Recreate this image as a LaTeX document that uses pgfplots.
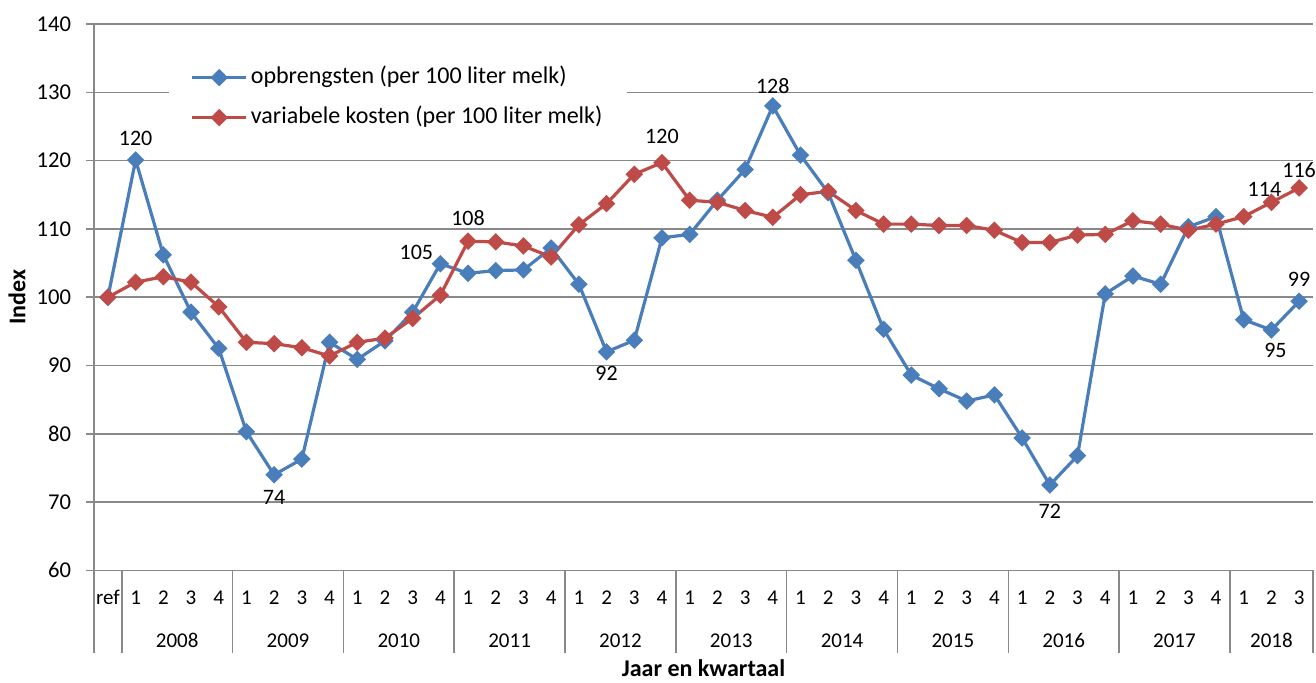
\documentclass[border=0pt]{standalone}
\usepackage{fontspec}
\setmainfont{Carlito}
\usepackage{pgfplots}
\pgfplotsset{compat=1.18}
\usetikzlibrary{calc}
\definecolor{cblue}{HTML}{4A7EBB}
\definecolor{cred}{HTML}{BE4B48}
\definecolor{cgrid}{HTML}{898989}
\begin{document}
\begin{tikzpicture}[font=\fontsize{11}{13.2}\selectfont]
\begin{axis}[
  scale only axis, width=609pt, height=273pt,
  xmin=-0.5, xmax=43.5, ymin=60, ymax=140,
  ytick={60,70,...,140},
  axis x line*=bottom, axis y line*=left,
  axis line style={-, cgrid, line width=0.75pt},
  every outer x axis line/.append style={-},
  every outer y axis line/.append style={-},
  ymajorgrids, grid style={cgrid, line width=0.75pt},
  tick align=outside, major tick length=4pt,
  ytick style={cgrid, line width=0.75pt},
  xtick style={draw=none},
  xtick={0,...,43},
  xticklabels={ref,1,2,3,4,1,2,3,4,1,2,3,4,1,2,3,4,1,2,3,4,1,2,3,4,1,2,3,4,1,2,3,4,1,2,3,4,1,2,3,4,1,2,3},
  xticklabel style={text height=7pt, text depth=0pt, yshift=-2.5pt, font=\fontsize{10.5}{12.6}\selectfont},
  yticklabel style={xshift=-4pt, font=\fontsize{11.3}{13.2}\selectfont},
  /pgf/number format/assume math mode=true,
  clip=false,
  legend cell align=left,
  legend style={at={(0.0608,0.943)}, anchor=north west, draw=none, fill=white,
    inner xsep=11pt, inner ysep=4pt, row sep=6pt, column sep=0pt,
    nodes={text height=8.5pt, text depth=2.5pt, inner sep=1.5pt},
    font=\fontsize{12}{14}\selectfont},
  legend image code/.code={\draw[mark repeat=2,mark phase=2,#1] plot coordinates {(0pt,0pt) (13.5pt,0pt) (27pt,0pt)};},
]
\addplot[cblue, line width=1.6pt, mark=square*, mark size=2.3pt, mark options={rotate=45, solid}] coordinates {
(0,100) (1,120.1) (2,106.2) (3,97.8) (4,92.5) (5,80.3) (6,74.0) (7,76.3) (8,93.4)
(9,90.9) (10,93.6) (11,97.8) (12,104.9) (13,103.5) (14,103.9) (15,104.0) (16,107.2)
(17,101.9) (18,92.0) (19,93.7) (20,108.7) (21,109.2) (22,114.2) (23,118.7) (24,128.0)
(25,120.8) (26,115.3) (27,105.4) (28,95.3) (29,88.6) (30,86.6) (31,84.8) (32,85.7)
(33,79.4) (34,72.5) (35,76.8) (36,100.5) (37,103.1) (38,101.9) (39,110.3) (40,111.8)
(41,96.7) (42,95.2) (43,99.4)};
\addlegendentry{opbrengsten (per 100 liter melk)}
\addplot[cred, line width=1.6pt, mark=square*, mark size=2.3pt, mark options={rotate=45, solid}] coordinates {
(0,100) (1,102.2) (2,103.0) (3,102.2) (4,98.6) (5,93.4) (6,93.2) (7,92.6) (8,91.4)
(9,93.4) (10,94.0) (11,96.9) (12,100.3) (13,108.2) (14,108.1) (15,107.5) (16,105.9)
(17,110.6) (18,113.7) (19,118.0) (20,119.7) (21,114.2) (22,113.9) (23,112.7) (24,111.7)
(25,115.0) (26,115.5) (27,112.7) (28,110.7) (29,110.7) (30,110.5) (31,110.5) (32,109.8)
(33,108.0) (34,108.0) (35,109.1) (36,109.2) (37,111.2) (38,110.7) (39,109.8) (40,110.7)
(41,111.8) (42,113.9) (43,116.0)};
\addlegendentry{variabele kosten (per 100 liter melk)}
% data labels
\node[yshift=10.5pt] at (axis cs:1,120.1) {120};
\node[yshift=-11.5pt] at (axis cs:6,74.0) {74};
\node[xshift=-12pt,yshift=5.5pt] at (axis cs:12,104.9) {105};
\node[yshift=11.5pt] at (axis cs:13,108.2) {108};
\node[yshift=-10.5pt] at (axis cs:18,92.0) {92};
\node[yshift=13pt] at (axis cs:20,119.7) {120};
\node[yshift=10pt] at (axis cs:24,128.0) {128};
\node[yshift=-13pt] at (axis cs:34,72.5) {72};
\node[xshift=-3.5pt,yshift=6.5pt] at (axis cs:42,113.9) {114};
\node[yshift=9pt] at (axis cs:43,116.0) {116};
\node[xshift=2pt,yshift=-10pt] at (axis cs:42,95.2) {95};
\node[yshift=11pt] at (axis cs:43,99.4) {99};
% category separators
\pgfplotsinvokeforeach{-0.5,0.5,4.5,8.5,12.5,16.5,20.5,24.5,28.5,32.5,36.5,40.5,43.5}{
  \draw[cgrid, line width=0.75pt] (axis cs:#1,60) -- ++(0pt,-41.5pt);
}
% year labels
\begin{scope}[every node/.style={font=\fontsize{10.5}{12.6}\selectfont, yshift=-35pt}]
\node at (axis cs:2.5,60) {2008};
\node at (axis cs:6.5,60) {2009};
\node at (axis cs:10.5,60) {2010};
\node at (axis cs:14.5,60) {2011};
\node at (axis cs:18.5,60) {2012};
\node at (axis cs:22.5,60) {2013};
\node at (axis cs:26.5,60) {2014};
\node at (axis cs:30.5,60) {2015};
\node at (axis cs:34.5,60) {2016};
\node at (axis cs:38.5,60) {2017};
\node at (axis cs:42,60) {2018};
\end{scope}
\node[font=\fontsize{12}{14}\selectfont\bfseries, yshift=-49pt] at (axis cs:21.5,60) {Jaar en kwartaal};
\node[font=\fontsize{12}{14}\selectfont\bfseries, rotate=90] at ($(axis cs:-0.5,100)+(-38.5pt,0pt)$) {Index};
\end{axis}
\pgfresetboundingbox
\path[use as bounding box] ($(current axis.south west)+(-47pt,-56pt)$) rectangle ($(current axis.north east)+(1.5pt,12pt)$);
\end{tikzpicture}
\end{document}
